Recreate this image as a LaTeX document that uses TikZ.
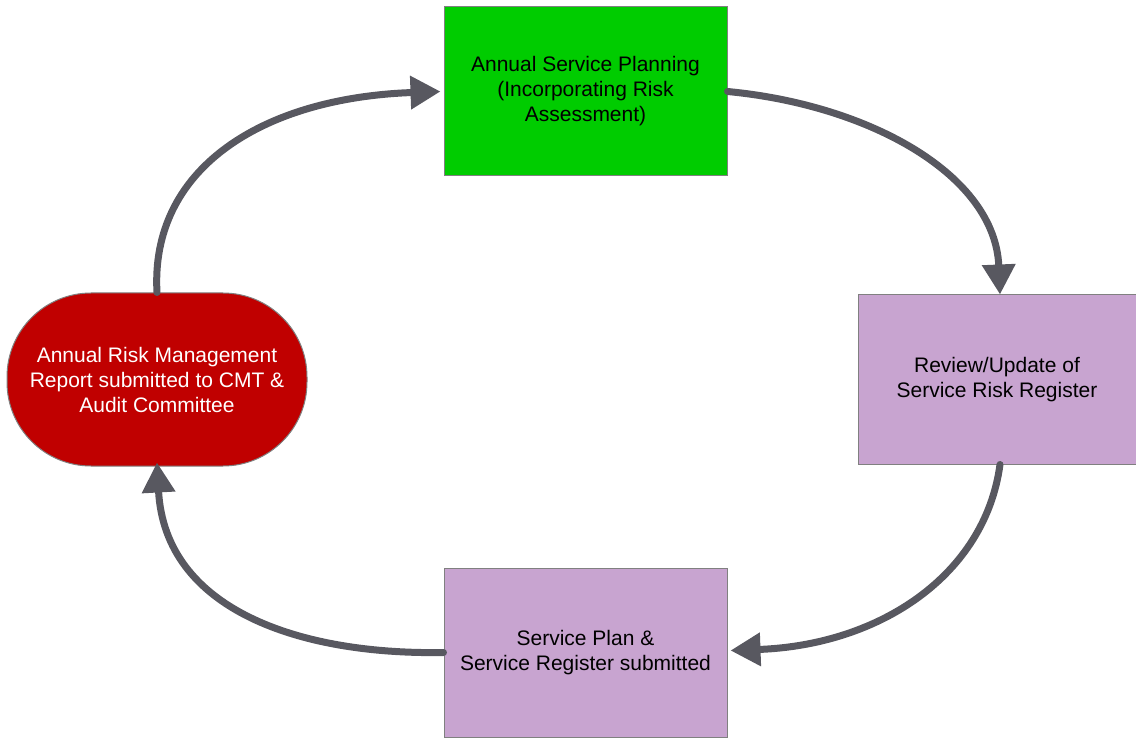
\documentclass[tikz,border=0pt]{standalone}
\usepackage{fontspec}
\setmainfont{Liberation Sans}
\usetikzlibrary{arrows.meta}
\definecolor{boxgreen}{RGB}{0,204,0}
\definecolor{boxpurple}{RGB}{200,164,208}
\definecolor{boxred}{RGB}{192,0,0}
\definecolor{arrowgray}{RGB}{88,88,96}
\definecolor{edgegray}{RGB}{128,128,128}
\tikzset{
  stepbox/.style={draw=edgegray, line width=1pt, align=center, inner sep=0pt,
    font=\fontsize{21}{25}\selectfont, text=black},
  flow/.style={draw=arrowgray, line width=7pt, line cap=round,
    -{Triangle[length=30pt,width=32pt]}},
}
\begin{document}
\begin{tikzpicture}[x=1pt,y=-1pt]
\useasboundingbox (0,0) rectangle (1136,738);
\node[stepbox, fill=boxgreen, minimum width=283pt, minimum height=169pt] (g) at (585.5,91.5)
  {Annual Service Planning\\(Incorporating Risk\\Assessment)};
\node[stepbox, fill=boxpurple, minimum width=278pt, minimum height=169pt] (r) at (997,379.5)
  {Review/Update of\\Service Risk Register};
\node[stepbox, fill=boxpurple, minimum width=283pt, minimum height=169pt] (b) at (585.5,652.5)
  {Service Plan \&\\Service Register submitted};
\node[stepbox, fill=boxred, text=white, rounded corners=84pt, minimum width=300pt, minimum height=173pt] (red) at (157,379.5)
  {Annual Risk Management\\Report submitted to CMT \&\\Audit Committee};
\draw[flow] (red.north) .. controls (150,170) and (260,98) .. ([xshift=-3pt]g.west);
\draw[flow] (g.east) .. controls (870,105) and (995,175) .. ([xshift=3pt]r.north);
\draw[flow] ([xshift=3pt]r.south) .. controls (985,575) and (880,645) .. ([xshift=3pt,yshift=2pt]b.east);
\draw[flow] (b.west) .. controls (300,655) and (165,610) .. ([yshift=4pt]red.south);
\end{tikzpicture}
\end{document}
